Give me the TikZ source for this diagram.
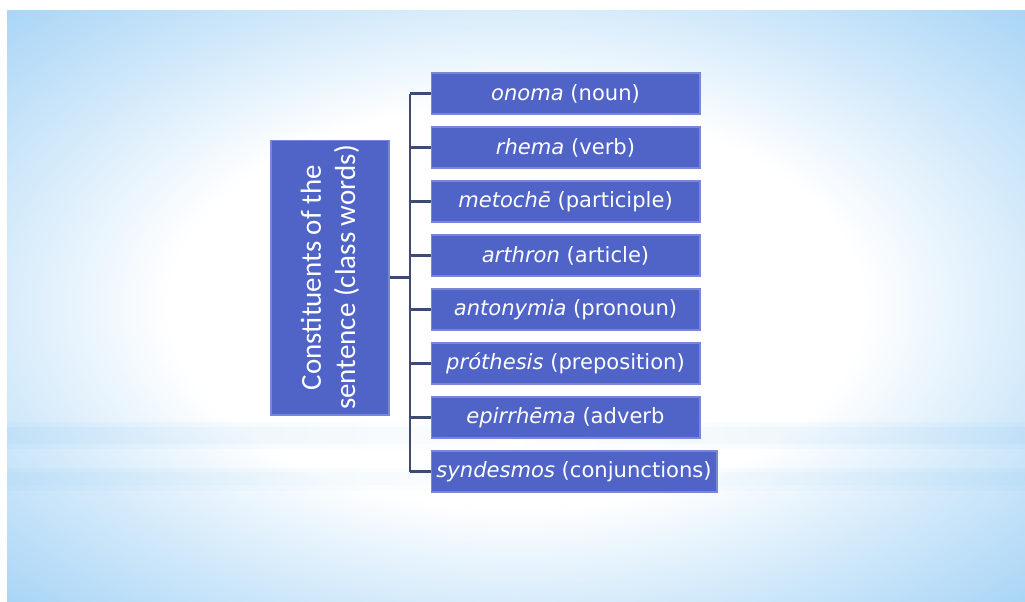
\documentclass[tikz,border=0pt]{standalone}
\usepackage{fontspec}
\setmainfont{DejaVu Sans}
\newfontfamily\leftfont{Carlito}
\definecolor{bgblue}{RGB}{166,212,246}
\definecolor{boxblue}{RGB}{80,99,199}
\definecolor{boxedge}{RGB}{120,136,214}
\definecolor{linecol}{RGB}{62,74,118}
\pgfdeclareradialshading{bgshade}{\pgfpoint{0bp}{0bp}}{color(0bp)=(white); color(17bp)=(white); color(26bp)=(bgblue!50); color(36bp)=(bgblue); color(50bp)=(bgblue)}
\tikzset{
  itembox/.style={draw=boxedge, line width=0.6pt, fill=boxblue, text=white, minimum width=5.38cm, minimum height=0.82cm, inner sep=0pt, font=\fontsize{12}{14}\selectfont},
  mainbox/.style={draw=boxedge, line width=0.6pt, fill=boxblue, minimum width=5.5cm, minimum height=2.36cm, inner sep=0pt, rotate=90, text=white, align=center, font=\leftfont\fontsize{16.5}{19.5}\selectfont},
  conn/.style={draw=linecol, line width=1.2pt}
}
\begin{document}
\begin{tikzpicture}[x=0.02cm,y=-0.02cm]
\useasboundingbox (0,0) rectangle (1025,602);
\fill[white] (0,0) rectangle (1025,602);
\shade[shading=bgshade] (7,10) rectangle (1025,602);
% soft horizontal bands
\foreach \y/\h/\o in {422/26/0.15, 427/16/0.2, 468/22/0.15, 472/12/0.15}{
  \shade[left color=bgblue, right color=bgblue, middle color=white, opacity=\o] (7,\y) rectangle (1025,\y+\h);
}
\node[mainbox] (L) at (330,277.5) {Constituents of the\\sentence (class words)};
\node[itembox] (b1) at (565.5,93.5) {\textit{onoma} (noun)};
\node[itembox] (b2) at (565.5,147.5) {\textit{rhema} (verb)};
\node[itembox] (b3) at (565.5,201.5) {\textit{metochē} (participle)};
\node[itembox] (b4) at (565.5,255.5) {\textit{arthron} (article)};
\node[itembox] (b5) at (565.5,309.5) {\textit{antonymia} (pronoun)};
\node[itembox] (b6) at (565.5,363.5) {\textit{próthesis} (preposition)};
\node[itembox] (b7) at (565.5,417.5) {\textit{epirrhēma} (adverb};
\node[itembox, minimum width=5.72cm] (b8) at (574,471.5) {\textit{syndesmos} (conjunctions)};
\coordinate (sp) at (410,0);
\draw[conn] (b1.west -| sp) -- (b8.west -| sp);
\foreach \i in {1,...,8}{ \draw[conn] (b\i.west) -- (b\i.west -| sp); }
\draw[conn] (L.south) -- (L.south -| sp);
\end{tikzpicture}
\end{document}
